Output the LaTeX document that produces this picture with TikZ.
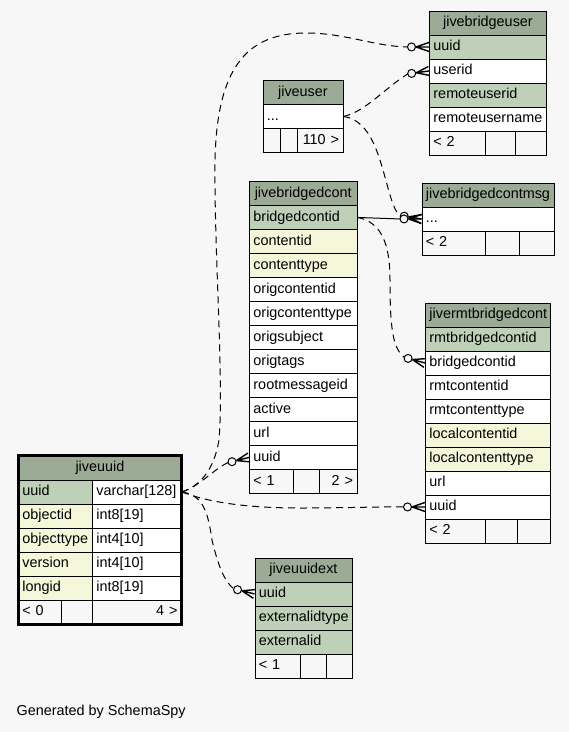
\documentclass[tikz,border=0pt]{standalone}
\usepackage{fontspec}
\setmainfont{Liberation Sans}
\usetikzlibrary{calc}
\definecolor{bgcol}{HTML}{F7F7F7}
\definecolor{hdcol}{HTML}{9BAB96}
\definecolor{pkcol}{HTML}{BED1B8}
\definecolor{ixcol}{HTML}{F4F7DA}
\tikzset{
 tcell/.style={draw=black, line width=0.9pt, anchor=north west, inner xsep=4pt, inner ysep=0pt,
   font=\fontsize{14.4}{16}\selectfont, text height=10.5pt, text depth=3pt},
 fk/.style={draw=black, line width=1pt, dash pattern=on 7pt off 5pt},
 fksolid/.style={draw=black, line width=1pt},
 crowsty/.style={draw=black, line width=1.4pt},
 circsty/.style={draw=black, line width=1pt, fill=bgcol},
}
% #1 name #2 x #3 y #4 w #5 h #6 fill #7 align #8 text
\newcommand\tc[8]{%
  \pgfmathsetmacro\tcw{#4-8}%
  \node[tcell, fill=#6, minimum width=#4pt, minimum height=#5pt, text width=\tcw pt, align=#7] (#1) at (#2,#3) {#8};%
}
% #1 coordinate name, #2 tip point, #3 angle back along the line
\newcommand\crowend[3]{%
  \coordinate (#1-tip) at (#2);
  \draw[crowsty] ($(#1-tip)+(#3:13)$) -- ($(#1-tip)+(#3+90:4.5)$)
                 ($(#1-tip)+(#3:13)$) -- (#1-tip)
                 ($(#1-tip)+(#3:13)$) -- ($(#1-tip)+(#3-90:4.5)$);
  \draw[circsty] ($(#1-tip)+(#3:17.5)$) circle[radius=4];
  \coordinate (#1) at ($(#1-tip)+(#3:21.5)$);
}
\begin{document}
\begin{tikzpicture}[x=1pt,y=-1pt]
\fill[bgcol] (0,0) rectangle (569,732);
\useasboundingbox (0,0) rectangle (569,732);

% jivebridgeuser
\tc{bu-h}{429}{10.5}{117}{24}{hdcol}{center}{jivebridgeuser}
\tc{bu-uuid}{429}{34.5}{117}{24}{pkcol}{left}{uuid}
\tc{bu-userid}{429}{58.5}{117}{24}{white}{left}{userid}
\tc{bu-remoteuserid}{429}{82.5}{117}{24}{pkcol}{left}{remoteuserid}
\tc{bu-remoteusername}{429}{106.5}{117}{24}{white}{left}{remoteusername}
\tc{bu-f1}{429}{130.5}{56}{24}{bgcol}{left}{< 2}
\tc{bu-f2}{485}{130.5}{30}{24}{bgcol}{left}{}
\tc{bu-f3}{515}{130.5}{31}{24}{bgcol}{left}{}

% jiveuser
\tc{ju-h}{262.5}{80}{80}{24}{hdcol}{center}{jiveuser}
\tc{ju-dots}{262.5}{104}{80}{24}{white}{left}{...}
\tc{ju-f1}{262.5}{128}{17.5}{24}{bgcol}{left}{}
\tc{ju-f2}{280}{128}{17}{24}{bgcol}{left}{}
\tc{ju-f3}{297}{128}{45.5}{24}{bgcol}{right}{110 >}

% jivebridgedcont
\tc{bc-h}{249}{181}{107.5}{24}{hdcol}{center}{jivebridgedcont}
\tc{bc-bridgedcontid}{249}{205}{107.5}{24}{pkcol}{left}{bridgedcontid}
\tc{bc-contentid}{249}{229}{107.5}{24}{ixcol}{left}{contentid}
\tc{bc-contenttype}{249}{253}{107.5}{24}{ixcol}{left}{contenttype}
\tc{bc-origcontentid}{249}{277}{107.5}{24}{white}{left}{origcontentid}
\tc{bc-origcontenttype}{249}{301}{107.5}{24}{white}{left}{origcontenttype}
\tc{bc-origsubject}{249}{325}{107.5}{24}{white}{left}{origsubject}
\tc{bc-origtags}{249}{349}{107.5}{24}{white}{left}{origtags}
\tc{bc-rootmessageid}{249}{373}{107.5}{24}{white}{left}{rootmessageid}
\tc{bc-active}{249}{397}{107.5}{24}{white}{left}{active}
\tc{bc-url}{249}{421}{107.5}{24}{white}{left}{url}
\tc{bc-uuid}{249}{445}{107.5}{24}{white}{left}{uuid}
\tc{bc-f1}{249}{469}{44}{24}{bgcol}{left}{< 1}
\tc{bc-f2}{293}{469}{26}{24}{bgcol}{left}{}
\tc{bc-f3}{319}{469}{37.5}{24}{bgcol}{right}{2 >}

% jivebridgedcontmsg
\tc{bcm-h}{421.5}{182.5}{132}{24}{hdcol}{center}{jivebridgedcontmsg}
\tc{bcm-dots}{421.5}{206.5}{132}{24}{white}{left}{...}
\tc{bcm-f1}{421.5}{230.5}{63.5}{24}{bgcol}{left}{< 2}
\tc{bcm-f2}{485}{230.5}{34}{24}{bgcol}{left}{}
\tc{bcm-f3}{519}{230.5}{34.5}{24}{bgcol}{left}{}

% jivermtbridgedcont
\tc{rbc-h}{425}{302.5}{125}{24}{hdcol}{center}{jivermtbridgedcont}
\tc{rbc-rmtbridgedcontid}{425}{326.5}{125}{24}{pkcol}{left}{rmtbridgedcontid}
\tc{rbc-bridgedcontid}{425}{350.5}{125}{24}{white}{left}{bridgedcontid}
\tc{rbc-rmtcontentid}{425}{374.5}{125}{24}{white}{left}{rmtcontentid}
\tc{rbc-rmtcontenttype}{425}{398.5}{125}{24}{white}{left}{rmtcontenttype}
\tc{rbc-localcontentid}{425}{422.5}{125}{24}{ixcol}{left}{localcontentid}
\tc{rbc-localcontenttype}{425}{446.5}{125}{24}{ixcol}{left}{localcontenttype}
\tc{rbc-url}{425}{470.5}{125}{24}{white}{left}{url}
\tc{rbc-uuid}{425}{494.5}{125}{24}{white}{left}{uuid}
\tc{rbc-f1}{425}{518.5}{59.5}{24}{bgcol}{left}{< 2}
\tc{rbc-f2}{484.5}{518.5}{32}{24}{bgcol}{left}{}
\tc{rbc-f3}{516.5}{518.5}{33.5}{24}{bgcol}{left}{}

% jiveuuid
\tc{uu-h}{18}{455}{163}{24.5}{hdcol}{center}{jiveuuid}
\tc{uu-uuid}{18}{479.5}{74}{24}{pkcol}{left}{uuid}
\tc{uu-uuidt}{92}{479.5}{89}{24}{white}{left}{varchar[128]}
\tc{uu-objectid}{18}{503.5}{74}{24}{ixcol}{left}{objectid}
\tc{uu-objectidt}{92}{503.5}{89}{24}{white}{left}{int8[19]}
\tc{uu-objecttype}{18}{527.5}{74}{24}{ixcol}{left}{objecttype}
\tc{uu-objecttypet}{92}{527.5}{89}{24}{white}{left}{int4[10]}
\tc{uu-version}{18}{551.5}{74}{24}{ixcol}{left}{version}
\tc{uu-versiont}{92}{551.5}{89}{24}{white}{left}{int4[10]}
\tc{uu-longid}{18}{575.5}{74}{24}{ixcol}{left}{longid}
\tc{uu-longidt}{92}{575.5}{89}{24}{white}{left}{int8[19]}
\tc{uu-f1}{18}{599.5}{43}{24}{bgcol}{left}{< 0}
\tc{uu-f2}{61}{599.5}{31}{24}{bgcol}{left}{}
\tc{uu-f3}{92}{599.5}{89}{24}{bgcol}{right}{4 >}
\draw[line width=3pt] (uu-h.north west) rectangle (uu-f3.south east);

% jiveuuidext
\tc{uxt-h}{254.5}{557.5}{97}{24}{hdcol}{center}{jiveuuidext}
\tc{uxt-uuid}{254.5}{581.5}{97}{24}{pkcol}{left}{uuid}
\tc{uxt-externalidtype}{254.5}{605.5}{97}{24}{pkcol}{left}{externalidtype}
\tc{uxt-externalid}{254.5}{629.5}{97}{24}{pkcol}{left}{externalid}
\tc{uxt-f1}{254.5}{653.5}{45.5}{24}{bgcol}{left}{< 1}
\tc{uxt-f2}{300}{653.5}{25.5}{24}{bgcol}{left}{}
\tc{uxt-f3}{325.5}{653.5}{26}{24}{bgcol}{left}{}

% connector ends
\crowend{e1}{bu-uuid.west}{180}
\crowend{e2}{bu-userid.west}{172}
\crowend{e3}{bcm-dots.west}{189}
\crowend{e4}{bcm-dots.west}{180}
\crowend{e5}{rbc-bridgedcontid.west}{195}
\crowend{e6}{bc-uuid.west}{166}
\crowend{e7}{rbc-uuid.west}{180}
\crowend{e8}{uxt-uuid.west}{194}

% connectors
\draw[fk] (uu-uuidt.east) .. controls (200,486) and (214,470) .. (219,440)
  .. controls (224,380) and (214,250) .. (215,160)
  .. controls (217,70) and (245,33) .. (306,33)
  .. controls (345,33) and (375,46.5) .. (e1);
\draw[fk] (ju-dots.east) .. controls (365,112) and (385,88) .. (e2);
\draw[fk] (ju-dots.east) .. controls (372,120) and (380,160) .. (388,188)
  .. controls (392,202) and (395,212) .. (e3);
\draw[fksolid] (bc-bridgedcontid.east) -- (e4);
\draw[fk] (bc-bridgedcontid.east) .. controls (382,222) and (390,245) .. (390,280)
  .. controls (390,330) and (393,348) .. (e5);
\draw[fk] (uu-uuidt.east) .. controls (200,486) and (215,468) .. (e6);
\draw[fk] (uu-uuidt.east) .. controls (210,503) and (250,508) .. (300,508)
  .. controls (350,508) and (380,506.5) .. (e7);
\draw[fk] (uu-uuidt.east) .. controls (203,495) and (208,512) .. (212,540)
  .. controls (218,565) and (224,581) .. (e8);

\node[anchor=base west, font=\fontsize{14.4}{16}\selectfont, inner sep=0pt] (gen) at (16.5,715.5) {Generated by SchemaSpy};
\end{tikzpicture}
\end{document}
